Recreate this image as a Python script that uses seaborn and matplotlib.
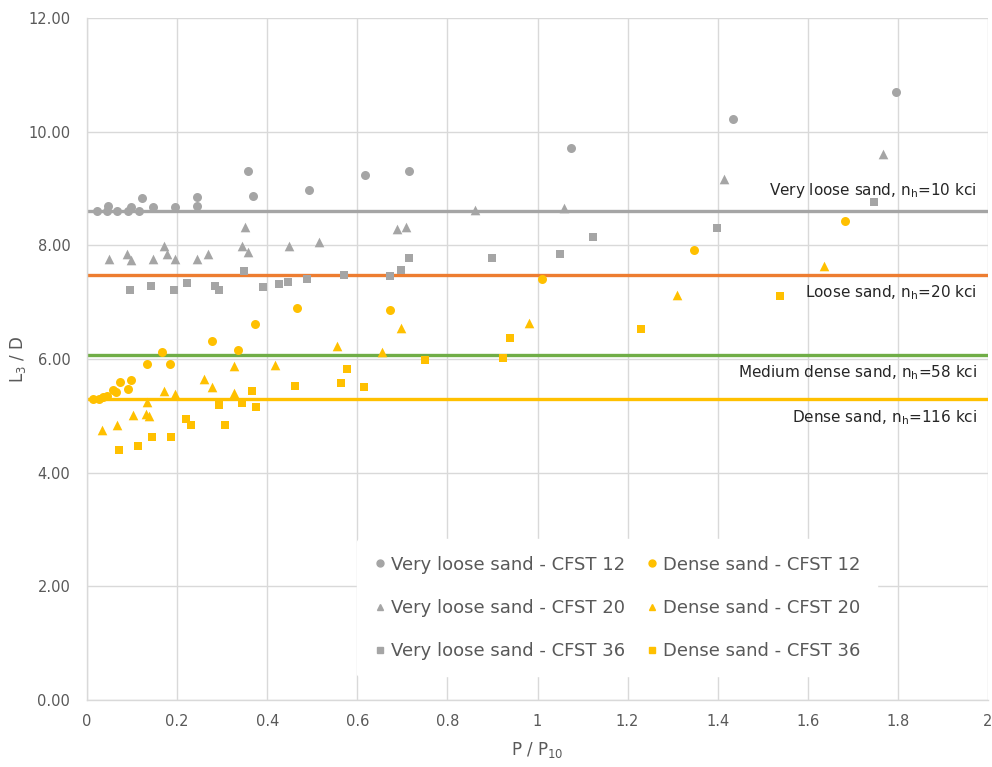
import numpy as np
import pandas as pd
import matplotlib
matplotlib.use("Agg")
import matplotlib.pyplot as plt
import seaborn as sns
from matplotlib.lines import Line2D

# ---- data ----
vl12_x = [0.022, 0.045, 0.047, 0.067, 0.092, 0.097, 0.115, 0.121, 0.146, 0.196, 0.244, 0.244,
          0.357, 0.369, 0.493, 0.616, 0.714, 1.075, 1.435, 1.796]
vl12_y = [8.61, 8.61, 8.69, 8.61, 8.61, 8.68, 8.61, 8.84, 8.68, 8.68, 8.85, 8.69,
          9.30, 8.86, 8.97, 9.23, 9.31, 9.71, 10.22, 10.69]

vl20_x = [0.048, 0.088, 0.097, 0.147, 0.171, 0.178, 0.196, 0.244, 0.268, 0.343, 0.350, 0.357,
          0.448, 0.516, 0.688, 0.707, 0.861, 1.059, 1.413, 1.766]
vl20_y = [7.76, 7.85, 7.75, 7.76, 7.99, 7.85, 7.76, 7.76, 7.85, 7.99, 8.32, 7.88,
          7.99, 8.05, 8.29, 8.32, 8.62, 8.66, 9.16, 9.61]

vl36_x = [0.096, 0.142, 0.193, 0.222, 0.284, 0.293, 0.348, 0.390, 0.427, 0.447, 0.489, 0.571,
          0.673, 0.698, 0.714, 0.898, 1.049, 1.123, 1.398, 1.747]
vl36_y = [7.21, 7.29, 7.21, 7.34, 7.29, 7.21, 7.55, 7.26, 7.32, 7.36, 7.40, 7.48,
          7.46, 7.57, 7.77, 7.77, 7.84, 8.14, 8.31, 8.76]

d12_x = [0.013, 0.027, 0.035, 0.044, 0.058, 0.064, 0.073, 0.092, 0.098, 0.133, 0.166, 0.184,
         0.278, 0.336, 0.373, 0.466, 0.673, 1.009, 1.347, 1.682]
d12_y = [5.29, 5.29, 5.33, 5.35, 5.45, 5.42, 5.60, 5.47, 5.63, 5.91, 6.12, 5.92,
         6.32, 6.16, 6.61, 6.89, 6.87, 7.41, 7.92, 8.42]

d20_x = [0.033, 0.066, 0.101, 0.130, 0.138, 0.134, 0.170, 0.195, 0.260, 0.277, 0.326, 0.326,
         0.417, 0.555, 0.655, 0.696, 0.981, 1.310, 1.636]
d20_y = [4.75, 4.83, 5.01, 5.04, 4.99, 5.24, 5.44, 5.38, 5.65, 5.50, 5.88, 5.41,
         5.89, 6.23, 6.12, 6.55, 6.63, 7.13, 7.64]

d36_x = [0.071, 0.114, 0.145, 0.187, 0.220, 0.230, 0.293, 0.306, 0.345, 0.367, 0.375, 0.462,
         0.563, 0.577, 0.615, 0.751, 0.923, 0.939, 1.230, 1.538]
d36_y = [4.39, 4.47, 4.62, 4.62, 4.94, 4.84, 5.19, 4.84, 5.22, 5.44, 5.16, 5.52,
         5.57, 5.83, 5.50, 5.98, 6.01, 6.37, 6.52, 7.11]

series_names = ["Very loose sand - CFST 12", "Very loose sand - CFST 20", "Very loose sand - CFST 36",
                "Dense sand - CFST 12", "Dense sand - CFST 20", "Dense sand - CFST 36"]

ref_values = [8.6, 7.48, 6.07, 5.29]
ref_labels = ["Very loose sand, n$_\\mathregular{h}$=10 kci", "Loose sand, n$_\\mathregular{h}$=20 kci",
              "Medium dense sand, n$_\\mathregular{h}$=58 kci", "Dense sand, n$_\\mathregular{h}$=116 kci"]
ref_colors = ["#A5A5A5", "#ED7D31", "#70AD47", "#FFC000"]

x_ticks = [0, 0.2, 0.4, 0.6, 0.8, 1, 1.2, 1.4, 1.6, 1.8, 2]
x_ticklabels = ["0", "0.2", "0.4", "0.6", "0.8", "1", "1.2", "1.4", "1.6", "1.8", "2"]
y_ticks = [0, 2, 4, 6, 8, 10, 12]
y_ticklabels = ["0.00", "2.00", "4.00", "6.00", "8.00", "10.00", "12.00"]

# ---- build frame ----
xs = [vl12_x, vl20_x, vl36_x, d12_x, d20_x, d36_x]
ys = [vl12_y, vl20_y, vl36_y, d12_y, d20_y, d36_y]
frames = []
for name, x, y in zip(series_names, xs, ys):
    frames.append(pd.DataFrame({"x": x, "y": y, "series": name}))
df = pd.concat(frames, ignore_index=True)

grey = "#A5A5A5"
gold = "#FFC000"
palette = {series_names[0]: grey, series_names[1]: grey, series_names[2]: grey,
           series_names[3]: gold, series_names[4]: gold, series_names[5]: gold}
markers = {series_names[0]: "o", series_names[1]: "^", series_names[2]: "s",
           series_names[3]: "o", series_names[4]: "^", series_names[5]: "s"}
marker_area = {"o": 42, "^": 48, "s": 34}

sns.set_theme(style="white")
plt.rcParams['font.family'] = ['DejaVu Sans']

fig = plt.figure(figsize=(9.92, 7.67), dpi=100)
ax = fig.add_axes([0.0877, 0.0874, 0.9083, 0.8891])

# reference lines
for v, c in zip(ref_values, ref_colors):
    ax.axhline(v, color=c, lw=2.4, zorder=2)

for name in series_names:
    sub = df[df["series"] == name]
    m = markers[name]
    sns.scatterplot(data=sub, x="x", y="y", color=palette[name], marker=m,
                    s=marker_area[m], linewidth=0, ax=ax, legend=False, zorder=3)

# line labels
txt_kw = dict(ha="right", fontsize=11, color="#262626", zorder=4)
ax.text(1.975, ref_values[0] + 0.19, ref_labels[0], va="bottom", **txt_kw)
for v, lab in zip(ref_values[1:], ref_labels[1:]):
    ax.text(1.975, v - 0.15, lab, va="top", **txt_kw)

ax.set_xlim(0, 2)
ax.set_ylim(0, 12)
ax.set_xticks(x_ticks)
ax.set_xticklabels(x_ticklabels)
ax.set_yticks(y_ticks)
ax.set_yticklabels(y_ticklabels)
ax.grid(True, color="#D9D9D9", lw=1)
ax.set_axisbelow(True)
for s in ["top", "right"]:
    ax.spines[s].set_visible(False)
for s in ["left", "bottom"]:
    ax.spines[s].set_color("#D9D9D9")
    ax.spines[s].set_linewidth(1)
ax.tick_params(axis="x", length=0, colors="#595959", labelsize=10.5, pad=10)
ax.tick_params(axis="y", length=0, colors="#595959", labelsize=10.5, pad=12)

ax.set_xlabel("P / P$_\\mathregular{10}$", fontsize=12, color="#595959", labelpad=8)
ax.set_ylabel("L$_\\mathregular{3}$ / D", fontsize=12, color="#595959")
ax.yaxis.set_label_coords(-0.066, 0.5)

handles = [Line2D([], [], ls="none", marker=markers[n], color=palette[n], markersize=5) for n in series_names]
leg = ax.legend(handles, series_names, ncol=2, loc="center", bbox_to_anchor=(0.588, 0.135),
                frameon=True, fontsize=13, labelspacing=1.4, columnspacing=1.1,
                handletextpad=0.2, handlelength=0.8, borderpad=0.9)
leg.get_frame().set_facecolor("white")
leg.get_frame().set_edgecolor("white")
leg.get_frame().set_alpha(1)
for t in leg.get_texts():
    t.set_color("#595959")

fig.savefig("out.png", dpi=100, facecolor="white")
